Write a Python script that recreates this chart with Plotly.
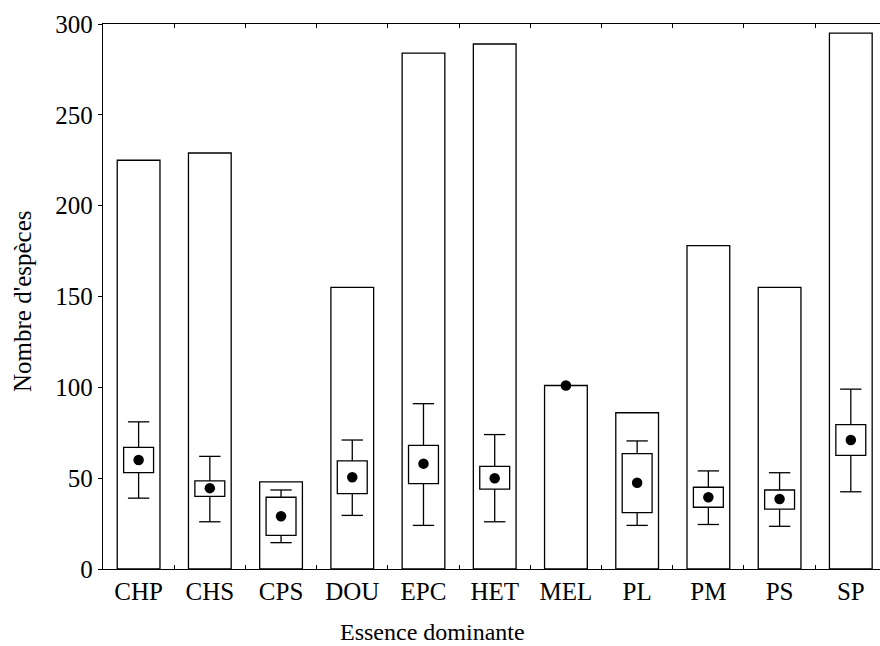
import plotly.graph_objects as go

# Dominant tree species groups
categories = ["CHP", "CHS", "CPS", "DOU", "EPC", "HET", "MEL", "PL", "PM", "PS", "SP"]

# Total number of species per group (outlined bars)
total_species = [225, 229, 48, 155, 284, 289, 101, 86, 178, 155, 295]

# Mean species richness per plot and its spread
mean_species = [60, 44.5, 29, 50.5, 58, 50, 101, 47.5, 39.5, 38.5, 71]
box_low = [53, 40, 18.5, 41.5, 47, 44, None, 31, 34, 33, 62.5]
box_high = [67, 48.5, 39.5, 59.5, 68, 56.5, None, 63.5, 45, 43.5, 79.5]
whisker_low = [39, 26, 14.5, 29.5, 24, 26, None, 24, 24.5, 23.5, 42.5]
whisker_high = [81, 62, 43.5, 71, 91, 74, None, 70.5, 54, 53, 99]

y_ticks = [0, 50, 100, 150, 200, 250, 300]

FONT = "Liberation Serif, Times New Roman, serif"
x = list(range(len(categories)))
CAP = 0.15

fig = go.Figure()

# Outlined totals
fig.add_trace(go.Bar(
    x=x, y=total_species, width=0.6,
    marker=dict(color="white", line=dict(color="black", width=1.3)),
    hoverinfo="skip", showlegend=False,
))

# Spread boxes drawn as floating bars
bx, bbase, bheight = [], [], []
for i, lo, hi in zip(x, box_low, box_high):
    if lo is None:
        continue
    bx.append(i)
    bbase.append(lo)
    bheight.append(hi - lo)
fig.add_trace(go.Bar(
    x=bx, y=bheight, base=bbase, width=0.42,
    marker=dict(color="white", line=dict(color="black", width=1.3)),
    hoverinfo="skip", showlegend=False,
))

# Whiskers with end caps (split around each box)
wx, wy = [], []
for i, wl, bl, bh, wh in zip(x, whisker_low, box_low, box_high, whisker_high):
    if wl is None:
        continue
    wx += [i, i, None, i, i, None]
    wy += [wl, bl, None, bh, wh, None]
    wx += [i - CAP, i + CAP, None, i - CAP, i + CAP, None]
    wy += [wl, wl, None, wh, wh, None]
fig.add_trace(go.Scatter(
    x=wx, y=wy, mode="lines",
    line=dict(color="black", width=1.3),
    hoverinfo="skip", showlegend=False,
))

# Means
fig.add_trace(go.Scatter(
    x=x, y=mean_species, mode="markers",
    marker=dict(color="black", size=10.5),
    showlegend=False,
))

# Group boundaries, used only for the small inside ticks
boundaries = [i + 0.5 for i in x]
fig.add_trace(go.Scatter(
    x=boundaries, y=[None] * len(boundaries), xaxis="x2",
    mode="markers", hoverinfo="skip", showlegend=False,
))

x_range = [-0.5, 10.41]

fig.update_layout(
    width=880, height=646,
    margin=dict(l=103, r=0, t=24, b=77),
    paper_bgcolor="white", plot_bgcolor="white",
    barmode="overlay",
    font=dict(family=FONT, color="black", size=24),
    xaxis=dict(
        range=x_range, tickmode="array", tickvals=x, ticktext=categories,
        ticks="", showgrid=False, zeroline=False,
        showline=True, linecolor="black", linewidth=1.3, mirror=True,
        tickfont=dict(family=FONT, size=25, color="black"),
    ),
    xaxis2=dict(
        overlaying="x", side="bottom", range=x_range,
        tickmode="array", tickvals=boundaries,
        ticks="inside", ticklen=4, tickcolor="black", tickwidth=1,
        mirror="ticks", showline=False, showticklabels=False,
        showgrid=False, zeroline=False,
    ),
    yaxis=dict(
        range=[0, 300], tickmode="array", tickvals=y_ticks,
        ticks="outside", ticklen=4, tickcolor="black",
        showgrid=False, zeroline=False,
        showline=True, linecolor="black", linewidth=1.3,
        tickfont=dict(family=FONT, size=25, color="black"),
    ),
    annotations=[
        dict(text="Essence dominante", xref="paper", yref="paper",
             x=(432 - 103) / 777, y=-(632 - 569) / 545,
             xanchor="center", yanchor="middle", showarrow=False,
             font=dict(family=FONT, size=24, color="black")),
        dict(text="Nombre d'espèces", xref="paper", yref="paper",
             x=-(103 - 22) / 777, y=(569 - 301) / 545, textangle=-90,
             xanchor="center", yanchor="middle", showarrow=False,
             font=dict(family=FONT, size=25, color="black")),
    ],
)

fig.write_html("out.html")
